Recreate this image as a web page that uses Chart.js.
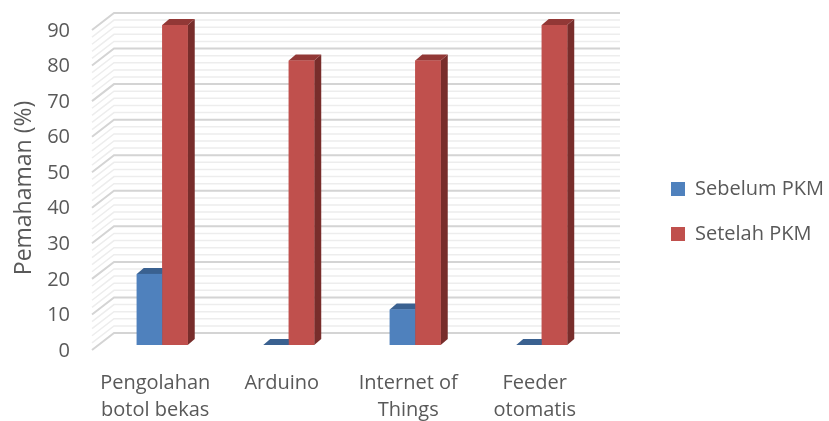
<!DOCTYPE html>
<html>
<head>
<meta charset="utf-8">
<script src="https://cdn.jsdelivr.net/npm/chart.js"></script>
<style>
  body { margin: 0; background: #fff; }
  #wrap { width: 829px; height: 421px; }
</style>
</head>
<body>
<div id="wrap"><canvas id="chart" width="829" height="421"></canvas></div>
<script>
// data
var categories = [['Pengolahan', 'botol bekas'], 'Arduino', ['Internet of', 'Things'], ['Feeder', 'otomatis']];
var seriesNames = ['Sebelum PKM', 'Setelah PKM'];
var sebelum = [20, 0, 10, 0];
var setelah = [90, 80, 80, 90];
var yMin = 0, yMax = 90, yStep = 10;

var FONT = '"Open Sans", sans-serif';
var TXT = '#595959';

// face colours: front, top, side
var faces = [
  { front: '#4F81BD', top: '#3A6190', side: '#2F5482' },
  { front: '#C0504D', top: '#923836', side: '#782D2B' }
];

// 3d offsets
var depth = { dx: 7, dy: -6 };    // bar depth
var backWall = { dx: 15, dy: -12 };
var frontEdge = { dx: -7, dy: 5 };

// legend size so chart area right edge lands where the bars need it
var legendPad = 25, legendBox = 14, legendFont = 20;
var mctx = document.createElement('canvas').getContext('2d');
mctx.font = legendFont + 'px ' + FONT;
var textW = Math.max.apply(null, seriesNames.map(function(s) { return mctx.measureText(s).width; }));
var legendW = legendPad + legendBox + legendFont / 2 + textW + 10;
var padRight = Math.max(0, 829 - 605 - legendW);

var walls = {
  id: 'walls',
  beforeDatasetsDraw: function(chart) {
    var ctx = chart.ctx, a = chart.chartArea, y = chart.scales.y;
    ctx.save();
    for (var v = yMin; v <= yMax; v += yStep / 5) {
      var py = y.getPixelForValue(v);
      var major = Math.abs(v % yStep) < 1e-6;
      ctx.strokeStyle = major ? '#d4d4d4' : '#ededed';
      ctx.lineWidth = major ? 2 : 1.5;
      ctx.beginPath();
      ctx.moveTo(a.left + frontEdge.dx, py + frontEdge.dy);
      ctx.lineTo(a.left + backWall.dx, py + backWall.dy);
      ctx.lineTo(a.right + backWall.dx, py + backWall.dy);
      ctx.stroke();
    }
    ctx.restore();
  }
};

var bars3d = {
  id: 'bars3d',
  afterDatasetsDraw: function(chart) {
    var ctx = chart.ctx;
    ctx.save();
    for (var i = 0; i < chart.data.labels.length; i++) {
      for (var d = 0; d < chart.data.datasets.length; d++) {
        var bar = chart.getDatasetMeta(d).data[i];
        var p = bar.getProps(['x', 'y', 'base', 'width'], true);
        var l = p.x - p.width / 2, r = p.x + p.width / 2;
        var c = faces[d];
        // side
        ctx.fillStyle = c.side;
        ctx.beginPath();
        ctx.moveTo(r, p.y);
        ctx.lineTo(r + depth.dx, p.y + depth.dy);
        ctx.lineTo(r + depth.dx, p.base + depth.dy);
        ctx.lineTo(r, p.base);
        ctx.closePath();
        ctx.fill();
        // top
        ctx.fillStyle = c.top;
        ctx.beginPath();
        ctx.moveTo(l, p.y);
        ctx.lineTo(l + depth.dx, p.y + depth.dy);
        ctx.lineTo(r + depth.dx, p.y + depth.dy);
        ctx.lineTo(r, p.y);
        ctx.closePath();
        ctx.fill();
        // front again so the next bar covers this one's side
        ctx.fillStyle = c.front;
        ctx.fillRect(l, p.y, p.width, p.base - p.y);
      }
    }
    ctx.restore();
  }
};

// move the legend to where it sits in the picture
var legendMove = {
  id: 'legendMove',
  afterLayout: function(chart) {
    var L = chart.legend;
    var colH = seriesNames.length * (legendFont + legendPad);
    var curX = L.left + legendPad;
    var curY = (L.top + legendPad + L.bottom - colH) / 2;
    var dx = 671 - curX, dy = 179 - curY;
    L.left += dx; L.right += dx; L.top += dy; L.bottom += dy;
  }
};

var ctx = document.getElementById('chart').getContext('2d');
var chart = new Chart(ctx, {
  type: 'bar',
  data: {
    labels: categories,
    datasets: [{
      label: seriesNames[0],
      data: sebelum,
      backgroundColor: faces[0].front,
      borderWidth: 0
    }, {
      label: seriesNames[1],
      data: setelah,
      backgroundColor: faces[1].front,
      borderWidth: 0
    }]
  },
  options: {
    responsive: false,
    devicePixelRatio: 1,
    animation: false,
    layout: {
      padding: { top: 25, left: 0, bottom: 0, right: padRight }
    },
    datasets: {
      bar: { barPercentage: 1, categoryPercentage: 0.403 }
    },
    scales: {
      x: {
        grid: { display: false, drawTicks: false },
        border: { display: false },
        ticks: {
          color: TXT,
          padding: 25,
          labelOffset: -7,
          maxRotation: 0,
          autoSkip: false,
          font: { family: FONT, size: 20, lineHeight: 1.35 }
        },
        afterFit: function(s) { s.height = 76; s.paddingLeft = 0; s.paddingRight = 0; }
      },
      y: {
        min: yMin,
        max: yMax,
        grid: { display: false, drawTicks: false },
        border: { display: false },
        ticks: {
          stepSize: yStep,
          color: TXT,
          padding: 29,
          labelOffset: 6,
          font: { family: FONT, size: 20 }
        },
        title: {
          display: true,
          text: 'Pemahaman (%)\u00a0',
          color: TXT,
          padding: { top: 11, bottom: 0 },
          font: { family: FONT, size: 23 }
        },
        afterFit: function(s) { s.width = 99; s.paddingTop = 0; s.paddingBottom = 0; }
      }
    },
    plugins: {
      legend: {
        position: 'right',
        labels: {
          color: TXT,
          boxWidth: legendBox,
          boxHeight: legendBox,
          padding: legendPad,
          font: { family: FONT, size: legendFont }
        }
      },
      tooltip: { enabled: false }
    }
  },
  plugins: [walls, bars3d, legendMove]
});
</script>
</body>
</html>
